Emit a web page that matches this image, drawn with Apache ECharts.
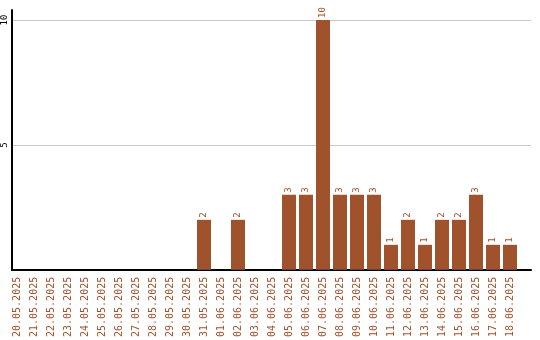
<!DOCTYPE html>
<html><head><meta charset="utf-8">
<script src="https://cdn.jsdelivr.net/npm/echarts@6/dist/echarts.min.js"></script>
<style>html,body{margin:0;padding:0;background:#fff}#c{width:540px;height:340px}</style>
</head><body><div id="c"></div>
<script>
const categories = ["20.05.2025","21.05.2025","22.05.2025","23.05.2025","24.05.2025","25.05.2025","26.05.2025","27.05.2025","28.05.2025","29.05.2025","30.05.2025","31.05.2025","01.06.2025","02.06.2025","03.06.2025","04.06.2025","05.06.2025","06.06.2025","07.06.2025","08.06.2025","09.06.2025","10.06.2025","11.06.2025","12.06.2025","13.06.2025","14.06.2025","15.06.2025","16.06.2025","17.06.2025","18.06.2025"];
const values = [0,0,0,0,0,0,0,0,0,0,0,2,0,2,0,0,3,3,10,3,3,3,1,2,1,2,2,3,1,1];
const yTicks = [5,10];
const brown = '#A0522D';
const font = 'DejaVu Sans Mono';
const chart = echarts.init(document.getElementById('c'));
chart.setOption({
  animation:false,
  grid:[
    {left:8.5, top:10, width:510, bottom:70},
    {left:10, top:10, right:9, bottom:70}
  ],
  xAxis:[
    {type:'category', gridIndex:0, data:categories, axisLine:{show:false}, axisTick:{show:false},
     axisLabel:{rotate:90, interval:0, color:brown, fontFamily:font, fontSize:10, margin:7}},
    {type:'value', gridIndex:1, min:0, max:1, axisLine:{show:true, lineStyle:{color:'#000', width:2}},
     axisTick:{show:false}, axisLabel:{show:false}, splitLine:{show:false}}
  ],
  yAxis:[
    {type:'value', gridIndex:0, min:0, max:10.4, interval:5, axisLine:{show:false}, axisTick:{show:false},
     axisLabel:{show:false}, splitLine:{show:false}},
    {type:'value', gridIndex:1, min:0, max:10.4, interval:5,
     axisLine:{show:true, lineStyle:{color:'#000', width:2}}, axisTick:{show:false},
     axisLabel:{rotate:90, fontFamily:font, fontSize:9, color:'#000', margin:3,
       showMaxLabel:false, showMinLabel:false,
       formatter:v=>yTicks.includes(v)?String(v):''},
     splitLine:{show:true, showMinLine:false, showMaxLine:false, lineStyle:{color:'#c8c8c8', width:1}}}
  ],
  series:[{
    type:'bar', xAxisIndex:0, yAxisIndex:0, barWidth:14,
    data:values.map(v=>v===0?null:v),
    itemStyle:{color:brown},
    label:{show:true, position:'top', rotate:90, align:'left', verticalAlign:'middle', distance:2,
      color:brown, fontFamily:font, fontSize:9}
  }]
});
</script></body></html>
